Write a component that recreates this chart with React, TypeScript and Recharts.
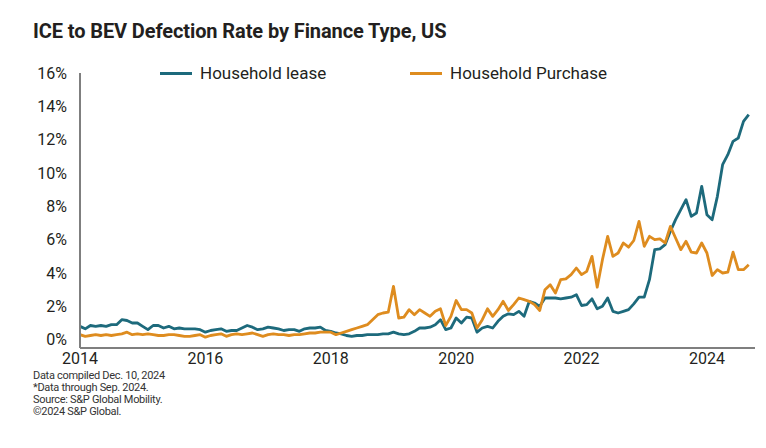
import { LineChart, Line, XAxis, YAxis } from "recharts";

// month index 0 = Jan 2014, last = Sep 2024
const yearTicks = [0, 24, 48, 72, 96, 120];
const yearLabels = ["2014", "2016", "2018", "2020", "2022", "2024"];
const pctTicks = [0, 2, 4, 6, 8, 10, 12, 14, 16];

const lease = [
  0.8, 0.65, 0.85, 0.8, 0.85, 0.8, 0.9, 0.9, 1.2, 1.15,
  1.0, 1.0, 0.8, 0.6, 0.85, 0.85, 0.7, 0.8, 0.65, 0.7,
  0.65, 0.65, 0.65, 0.6, 0.45, 0.55, 0.6, 0.65, 0.5, 0.55,
  0.55, 0.7, 0.85, 0.75, 0.6, 0.65, 0.75, 0.7, 0.65, 0.55,
  0.6, 0.6, 0.5, 0.65, 0.7, 0.7, 0.75, 0.55, 0.5, 0.4,
  0.35, 0.25, 0.2, 0.25, 0.25, 0.3, 0.3, 0.3, 0.35, 0.35,
  0.45, 0.35, 0.3, 0.35, 0.5, 0.7, 0.7, 0.75, 0.9, 1.2,
  0.6, 0.7, 1.3, 1.0, 1.35, 1.3, 0.45, 0.7, 0.8, 0.7,
  1.1, 1.4, 1.55, 1.5, 1.7, 1.4, 2.3, 2.2, 2.0, 2.5,
  2.5, 2.5, 2.45, 2.5, 2.55, 2.7, 2.05, 2.1, 2.45, 1.85,
  2.0, 2.5, 1.7, 1.6, 1.7, 1.8, 2.15, 2.55, 2.55, 3.6,
  5.4, 5.45, 5.7, 6.5, 7.2, 7.8, 8.4, 7.4, 7.6, 9.2,
  7.5, 7.2, 8.6, 10.5, 11.1, 11.9, 12.1, 13.1, 13.5,
];

const purchase = [
  0.3, 0.2, 0.25, 0.3, 0.25, 0.3, 0.25, 0.3, 0.35, 0.45,
  0.3, 0.35, 0.3, 0.35, 0.3, 0.25, 0.25, 0.3, 0.3, 0.25,
  0.2, 0.2, 0.25, 0.3, 0.15, 0.25, 0.3, 0.35, 0.2, 0.3,
  0.35, 0.3, 0.35, 0.4, 0.3, 0.2, 0.3, 0.35, 0.3, 0.3,
  0.25, 0.3, 0.3, 0.35, 0.4, 0.4, 0.45, 0.45, 0.45, 0.3,
  0.4, 0.5, 0.6, 0.7, 0.8, 0.9, 1.2, 1.5, 1.6, 1.65,
  3.2, 1.3, 1.35, 1.8, 1.5, 1.8, 1.6, 1.4, 1.7, 1.85,
  0.85, 1.4, 2.35, 1.8, 1.8, 1.6, 0.7, 1.2, 1.85, 1.4,
  1.8, 2.3, 1.75, 2.1, 2.5, 2.4, 2.3, 2.1, 1.75, 3.0,
  3.3, 2.8, 3.6, 3.65, 3.9, 4.3, 3.9, 4.1, 5.0, 3.15,
  4.8, 6.2, 5.0, 5.2, 5.8, 5.55, 5.95, 7.1, 5.6, 6.2,
  6.0, 6.05, 5.8, 6.8, 6.1, 5.4, 5.9, 5.25, 5.2, 5.8,
  5.2, 3.85, 4.2, 4.0, 4.05, 5.25, 4.2, 4.2, 4.5,
];

const seriesNames = ["Household lease", "Household Purchase"];

const footnotes = [
  "Data compiled Dec. 10, 2024",
  "*Data through Sep. 2024.",
  "Source: S&P Global Mobility.",
  "©2024 S&P Global.",
];

const TEAL = "#1d6a7c";
const ORANGE = "#de8c1f";
const FONT = "Roboto, 'Noto Sans', sans-serif";

const data = lease.map((v, i) => ({ m: i, lease: v, purchase: purchase[i] }));

export default function App() {
  const colors = [TEAL, ORANGE];
  return (
    <div style={{ position: "relative", width: 766, height: 448, background: "#fff", fontFamily: FONT, color: "#231f20" }}>
      <style>{`body{margin:0}`}</style>
      <div style={{ position: "absolute", left: 33, top: 19, fontSize: 20, fontWeight: 700, lineHeight: "24px", letterSpacing: -0.1 }}>
        ICE to BEV Defection Rate by Finance Type, US
      </div>

      <div style={{ position: "absolute", left: 0, top: 0 }}>
        <LineChart width={766} height={448} data={data} margin={{ top: 73, right: 11, bottom: 70, left: 0 }}>
          <XAxis
            dataKey="m"
            type="number"
            domain={[0, 129.2]}
            ticks={yearTicks}
            tickFormatter={(v: number) => yearLabels[yearTicks.indexOf(v)]}
            height={30}
            tickLine={false}
            tickSize={0}
            tickMargin={5}
            axisLine={{ stroke: "#7f7f7f", strokeWidth: 2 }}
            tick={{ fill: "#231f20", fontSize: 16, fontFamily: FONT }}
            allowDataOverflow
          />
          <YAxis
            domain={[-0.5, 16]}
            ticks={pctTicks}
            tickFormatter={(v: number) => `${v}%`}
            width={80}
            tickLine={false}
            tickSize={0}
            tickMargin={13}
            axisLine={{ stroke: "#7f7f7f", strokeWidth: 2 }}
            tick={{ fill: "#231f20", fontSize: 16, fontFamily: FONT }}
            allowDataOverflow
          />
          <Line
            type="linear"
            dataKey="lease"
            name={seriesNames[0]}
            stroke={TEAL}
            strokeWidth={2.8}
            dot={false}
            strokeLinejoin="round"
            isAnimationActive={false}
          />
          <Line
            type="linear"
            dataKey="purchase"
            name={seriesNames[1]}
            stroke={ORANGE}
            strokeWidth={2.8}
            dot={false}
            strokeLinejoin="round"
            isAnimationActive={false}
          />
        </LineChart>
      </div>

      {/* legend */}
      <div style={{ position: "absolute", left: 160, top: 63, display: "flex", fontSize: 17, lineHeight: "20px" }}>
        {seriesNames.map((n, i) => (
          <div key={n} style={{ display: "flex", alignItems: "center", width: 250 }}>
            <span style={{ width: 32, height: 3, background: colors[i], marginRight: 8 }} />
            <span>{n}</span>
          </div>
        ))}
      </div>

      <div style={{ position: "absolute", left: 33, top: 370, fontSize: 11, lineHeight: "12px", letterSpacing: -0.3, color: "#333" }}>
        {footnotes.map((t) => (
          <div key={t}>{t}</div>
        ))}
      </div>
    </div>
  );
}
